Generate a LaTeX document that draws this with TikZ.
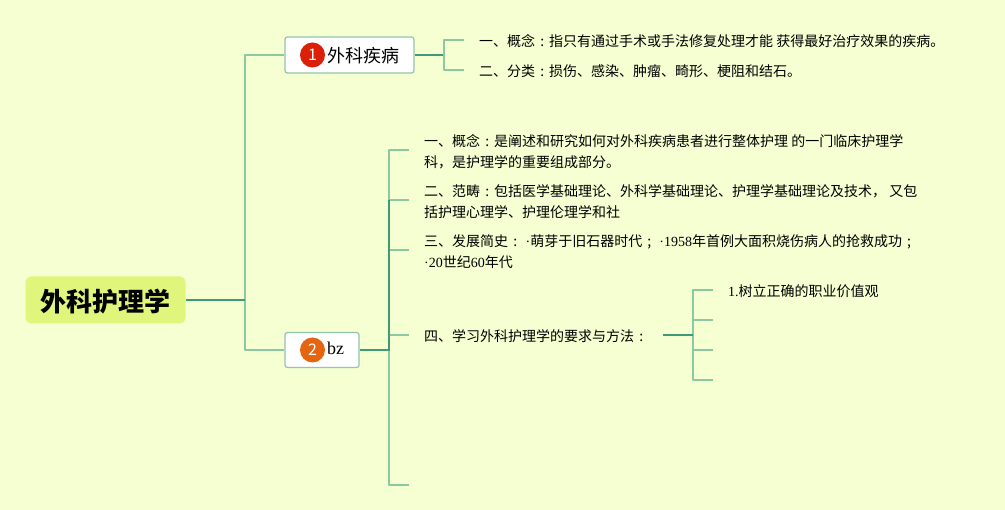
\documentclass[tikz,border=0pt]{standalone}
\usepackage{fontspec}
\setmainfont{Noto Sans CJK SC}
\newfontfamily\ltn{Liberation Serif}
\usetikzlibrary{positioning}
\definecolor{pagebg}{HTML}{F5FFD2}
\definecolor{rootfill}{HTML}{DFF57C}
\definecolor{linelight}{HTML}{8CC8A0}
\definecolor{linedark}{HTML}{3F9A78}
\definecolor{boxline}{HTML}{93C4AC}
\definecolor{badgeone}{HTML}{DC2007}
\definecolor{badgetwo}{HTML}{E4640F}
\newcommand{\mcolon}{\makebox[1em][c]{:}}
\newcommand{\msemi}{\makebox[1em][c]{;}}

\begin{document}
\begin{tikzpicture}[x=1pt,y=-1pt,
  rootbox/.style={fill=rootfill,rounded corners=6pt,minimum width=160pt,minimum height=47pt,inner sep=0pt},
  roottext/.style={inner sep=0pt,font=\fontsize{26}{30}\selectfont\bfseries},
  branchbox/.style={draw=boxline,line width=1.2pt,fill=white,rounded corners=2.5pt,minimum height=36pt,inner sep=0pt},
  badge/.style={circle,minimum size=25pt,inner sep=0pt,text=white,font=\fontsize{16}{20}\selectfont},
  branchtext/.style={inner sep=0pt,anchor=west,font=\fontsize{18}{22}\selectfont},
  leaf/.style={inner sep=0pt,anchor=west,align=left,font=\fontsize{14}{21}\selectfont},
  thin line/.style={draw=linelight,line width=1.3pt,line join=round},
  thick line/.style={draw=linedark,line width=1.6pt}]
  \fill[pagebg,use as bounding box] (0,0) rectangle (1005,510);

  \node[rootbox] (root) at (105.5,300) {};
  \node[roottext] (roottitle) at (106,301.5) {外科护理学};
  \node[branchbox,minimum width=129pt] (disease) at (349.5,55) {};
  \node[branchbox,minimum width=74pt,minimum height=35pt] (bz) at (322,350) {};
  \node[badge,fill=badgeone] (one) at (312.5,55) {1};
  \node[badge,fill=badgetwo] (two) at (312.5,350) {2};
  \node[branchtext] (diseasetext) at (327,56) {外科疾病};
  \node[branchtext] (bztext) at (327,348) {\ltn bz};

  \node[leaf] (defa) at (479,41) {一、概念\mcolon 指只有通过手术或手法修复处理才能 获得最好治疗效果的疾病。};
  \node[leaf] (kinds) at (479,71) {二、分类\mcolon 损伤、感染、肿瘤、畸形、梗阻和结石。};
  \node[leaf] (defb) at (424,151.5) {一、概念\mcolon 是阐述和研究如何对外科疾病患者进行整体护理 的一门临床护理学\\科，是护理学的重要组成部分。};
  \node[leaf] (scope) at (424,201.5) {二、范畴\mcolon 包括医学基础理论、外科学基础理论、护理学基础理论及技术， 又包\\括护理心理学、护理伦理学和社};
  \node[leaf] (history) at (424,251.5) {三、发展简史\mcolon {\ltn ~·}萌芽于旧石器时代\msemi\hspace{3pt}{\ltn ·1958}年首例大面积烧伤病人的抢救成功\msemi\\{\ltn ·20}世纪{\ltn 60}年代};
  \node[leaf] (study) at (424,336) {四、学习外科护理学的要求与方法\mcolon};
  \node[leaf] (value) at (728,291) {{\ltn 1.}树立正确的职业价值观};

  \coordinate (rootfork) at (245,300);
  \coordinate (diseasefork) at (444,55);
  \coordinate (bzfork) at (389,350);
  \coordinate (studystart) at (663,335);
  \coordinate (studyfork) at (693,335);

  \draw[thin line] (disease.west) -| (rootfork) |- (bz.west);
  \draw[thick line] (root.east) -- (rootfork);
  \draw[thick line] (disease.east) -- (diseasefork);
  \draw[thin line] (464,40) -| (444,70) -- (464,70);

  \draw[thin line] (409,150) -| (389,485) -- (409,485);
  \foreach \yy in {200,250,335}
    \draw[thin line] (389,\yy) -- (409,\yy);
  \draw[thick line] (389,200) -- (bzfork) -- (bz.east);

  \draw[thin line] (713,290) -| (693,380) -- (713,380);
  \foreach \yy in {320,350}
    \draw[thin line] (693,\yy) -- (713,\yy);
  \draw[thick line] (studystart) -- (studyfork);
\end{tikzpicture}
\end{document}
